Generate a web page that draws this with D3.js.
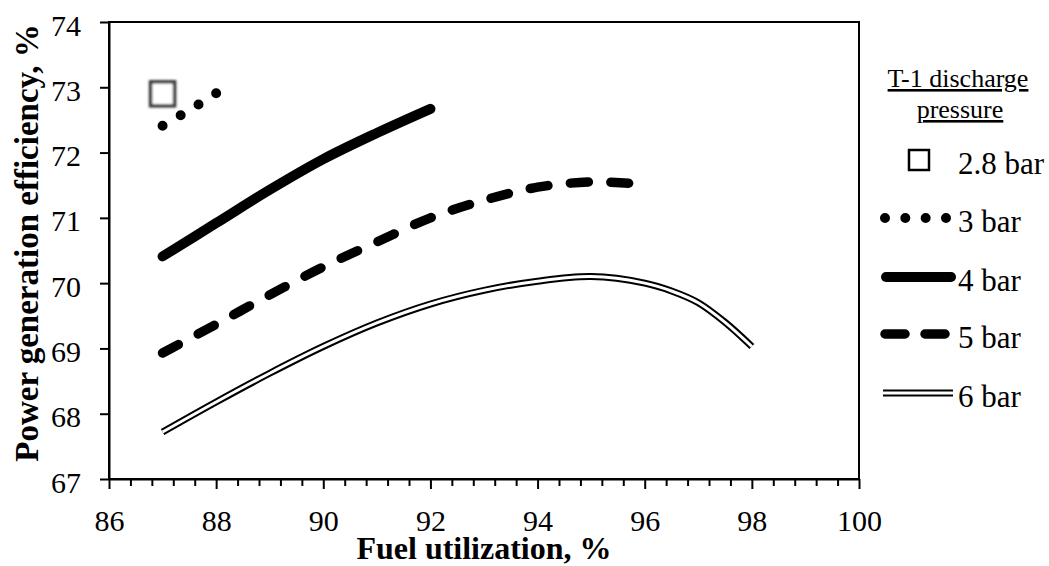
<!DOCTYPE html>
<html>
<head>
<meta charset="utf-8">
<script src="https://cdn.jsdelivr.net/npm/d3@7"></script>
<style>
  body { margin: 0; background: #fff; }
  svg { display: block; font-family: "Liberation Serif", "Times New Roman", serif; }
</style>
</head>
<body>
<div id="chart-area"></div>
<script>
const W = 1049, H = 566
const PLOT = { LEFT: 109, RIGHT: 859, TOP: 22, BOTTOM: 479 }

// T-1 discharge pressure series (fuel utilization %, efficiency %)
const fu28 = [87]
const eff28 = [72.9]
const fu3 = [87, 87.5, 88]
const eff3 = [72.41, 72.65, 72.91]
const fu4 = [87, 88, 89, 90, 91, 92]
const eff4 = [70.41, 70.92, 71.43, 71.9, 72.3, 72.67]
const fu5 = [87, 88, 89, 90, 91, 92, 93, 94, 95, 95.7]
const eff5 = [68.93, 69.37, 69.82, 70.25, 70.63, 71.0, 71.27, 71.47, 71.55, 71.53]
const fu6 = [87, 88, 89, 90, 91, 92, 93, 94, 95, 96, 96.5, 97, 97.5, 98]
const eff6 = [67.72, 68.18, 68.62, 69.03, 69.39, 69.68, 69.89, 70.03, 70.1, 70.0, 69.88, 69.7, 69.4, 69.03]

const legendLabels = ["2.8 bar", "3 bar", "4 bar", "5 bar", "6 bar"]
const xTicks = [86, 88, 90, 92, 94, 96, 98, 100]
const yTicks = [67, 68, 69, 70, 71, 72, 73, 74]

const svg = d3.select("#chart-area").append("svg")
  .attr("width", W)
  .attr("height", H)

const defs = svg.append("defs")
defs.append("filter").attr("id", "soft")
  .attr("x", "-30%").attr("y", "-30%").attr("width", "160%").attr("height", "160%")
  .append("feGaussianBlur").attr("stdDeviation", 0.9)

const x = d3.scaleLinear().domain([86, 100]).range([PLOT.LEFT, PLOT.RIGHT])
const y = d3.scaleLinear().domain([67, 74]).range([PLOT.BOTTOM, PLOT.TOP])

const zip = (a, b) => a.map((v, i) => [v, b[i]])
const line = d3.line().x(d => x(d[0])).y(d => y(d[1])).curve(d3.curveCatmullRom.alpha(0.5))

// frame
svg.append("rect")
  .attr("x", PLOT.LEFT).attr("y", PLOT.TOP)
  .attr("width", PLOT.RIGHT - PLOT.LEFT).attr("height", PLOT.BOTTOM - PLOT.TOP)
  .attr("fill", "none").attr("stroke", "#000").attr("stroke-width", 2)

// minor x ticks
const minor = d3.range(86, 100.001, 0.4).filter(v => Math.abs(v / 2 - Math.round(v / 2)) > 0.01)
svg.append("g")
  .attr("transform", `translate(0,${PLOT.BOTTOM})`)
  .call(d3.axisBottom(x).tickValues(minor).tickSize(7).tickFormat(""))
  .call(g => g.select(".domain").remove())
  .call(g => g.selectAll("line").attr("stroke-width", 2))

// x axis
svg.append("g")
  .attr("transform", `translate(0,${PLOT.BOTTOM})`)
  .call(d3.axisBottom(x).tickValues(xTicks).tickSize(10).tickPadding(0).tickSizeOuter(0)
    .tickFormat(d3.format("d")))
  .call(g => g.select(".domain").attr("stroke-width", 2))
  .call(g => g.selectAll("line").attr("stroke-width", 2))
  .call(g => g.selectAll("text")
    .attr("y", 52).attr("dy", 0)
    .style("font-size", "30px").style("font-family", "Liberation Serif").attr("fill", "#000"))

// y axis
svg.append("g")
  .attr("transform", `translate(${PLOT.LEFT},0)`)
  .call(d3.axisLeft(y).tickValues(yTicks).tickSize(9).tickPadding(0).tickSizeOuter(0)
    .tickFormat(d3.format("d")))
  .call(g => g.select(".domain").attr("stroke-width", 2))
  .call(g => g.selectAll("line").attr("stroke-width", 2))
  .call(g => g.selectAll("text")
    .attr("x", -28).attr("dy", 13)
    .style("font-size", "30px").style("font-family", "Liberation Serif").attr("fill", "#000"))

// axis titles
svg.append("text")
  .attr("x", (PLOT.LEFT + PLOT.RIGHT) / 2).attr("y", 559)
  .attr("text-anchor", "middle")
  .style("font-size", "32px").style("font-weight", "bold")
  .text("Fuel utilization, %")

svg.append("text")
  .attr("transform", `translate(38,${243}) rotate(-90)`)
  .attr("text-anchor", "middle")
  .style("font-size", "33px").style("font-weight", "bold")
  .text("Power generation efficiency, %")

const plot = svg.append("g")

// 6 bar - double line
plot.append("path").datum(zip(fu6, eff6))
  .attr("d", line).attr("fill", "none").attr("stroke", "#000").attr("stroke-width", 7)
plot.append("path").datum(zip(fu6, eff6))
  .attr("d", line).attr("fill", "none").attr("stroke", "#fff").attr("stroke-width", 3)

// 5 bar - dashed, pattern stretched so both ends are dashes
const p5 = plot.append("path").datum(zip(fu5, eff5))
  .attr("d", line).attr("fill", "none").attr("stroke", "#000").attr("stroke-width", 9.5)
  .attr("stroke-linecap", "round")
const len5 = p5.node().getTotalLength()
const n5 = Math.round((len5 - 18) / 39)
p5.attr("stroke-dasharray", `18 ${(len5 - 18) / n5 - 18}`)

// 4 bar - thick solid
plot.append("path").datum(zip(fu4, eff4))
  .attr("d", line).attr("fill", "none").attr("stroke", "#000").attr("stroke-width", 10)
  .attr("stroke-linecap", "round")

// 3 bar - round dots
const p3 = plot.append("path").datum(zip(fu3, eff3))
  .attr("d", line).attr("fill", "none").attr("stroke", "#000").attr("stroke-width", 10)
  .attr("stroke-linecap", "round")
const len3 = p3.node().getTotalLength()
p3.attr("stroke-dasharray", `0 ${len3 / 3 - 0.01}`)

// 2.8 bar - square marker
plot.selectAll(".sq").data(zip(fu28, eff28)).join("rect")
  .attr("x", d => x(d[0]) - 12).attr("y", d => y(d[1]) - 12)
  .attr("width", 24).attr("height", 24)
  .attr("fill", "#fff").attr("stroke", "#3a3a3a").attr("stroke-width", 3.5)
  .attr("filter", "url(#soft)")

// legend
const lg = svg.append("g")
lg.append("text").attr("x", 958).attr("y", 87).attr("text-anchor", "middle")
  .style("font-size", "26px").style("text-decoration", "underline").text("T-1 discharge")
lg.append("text").attr("x", 960).attr("y", 118).attr("text-anchor", "middle")
  .style("font-size", "26px").style("text-decoration", "underline").text("pressure")

const rowY = [160, 218, 277, 334, 393]
lg.selectAll(".lab").data(legendLabels).join("text")
  .attr("x", 958).attr("y", (d, i) => rowY[i] + 14)
  .style("font-size", "31px").text(d => d)

lg.append("rect").attr("x", 909).attr("y", rowY[0] - 10).attr("width", 20).attr("height", 20)
  .attr("fill", "#fff").attr("stroke", "#000").attr("stroke-width", 2.5)
lg.append("line").attr("x1", 885).attr("x2", 946).attr("y1", rowY[1]).attr("y2", rowY[1])
  .attr("stroke", "#000").attr("stroke-width", 10).attr("stroke-linecap", "round")
  .attr("stroke-dasharray", "0 20.33")
lg.append("line").attr("x1", 886).attr("x2", 951).attr("y1", rowY[2]).attr("y2", rowY[2])
  .attr("stroke", "#000").attr("stroke-width", 10).attr("stroke-linecap", "round")
lg.append("line").attr("x1", 885).attr("x2", 946).attr("y1", rowY[3]).attr("y2", rowY[3])
  .attr("stroke", "#000").attr("stroke-width", 9.5).attr("stroke-linecap", "round")
  .attr("stroke-dasharray", "20 20")
lg.append("line").attr("x1", 883).attr("x2", 953).attr("y1", rowY[4]).attr("y2", rowY[4])
  .attr("stroke", "#000").attr("stroke-width", 7)
lg.append("line").attr("x1", 883).attr("x2", 953).attr("y1", rowY[4]).attr("y2", rowY[4])
  .attr("stroke", "#fff").attr("stroke-width", 3)
</script>
</body>
</html>
